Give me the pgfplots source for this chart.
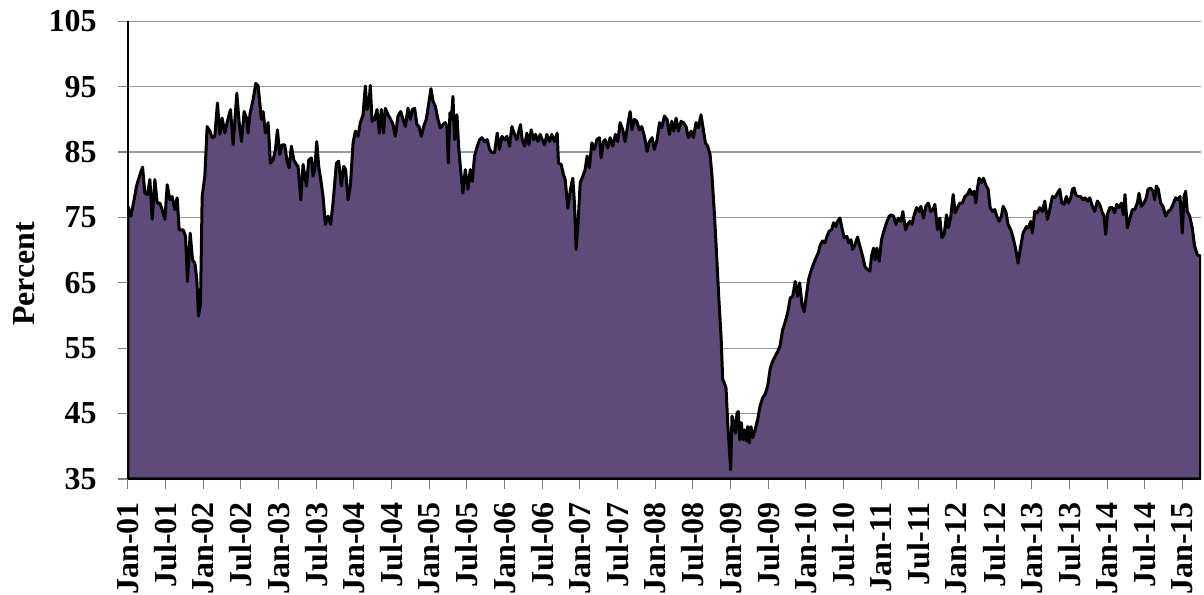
\documentclass[border=0pt]{standalone}
\usepackage{pgfplots}
\pgfplotsset{compat=1.18}
\usepackage{fontspec}
\setmainfont{Liberation Serif}
\definecolor{areapurple}{RGB}{95,75,122}
\begin{document}
\begin{tikzpicture}
\path (-64pt,-57.3pt) rectangle (538.5pt,239.65pt);
\begin{axis}[
  scale only axis, width=537pt, height=229pt,
  xmin=2001, xmax=2015.245, ymin=35, ymax=105,
  ytick={35,45,55,65,75,85,95,105},
  xtick={2001,2001.5,2002,2002.5,2003,2003.5,2004,2004.5,2005,2005.5,2006,2006.5,2007,2007.5,2008,2008.5,2009,2009.5,2010,2010.5,2011,2011.5,2012,2012.5,2013,2013.5,2014,2014.5,2015},
  xticklabels={Jan-01,Jul-01,Jan-02,Jul-02,Jan-03,Jul-03,Jan-04,Jul-04,Jan-05,Jul-05,Jan-06,Jul-06,Jan-07,Jul-07,Jan-08,Jul-08,Jan-09,Jul-09,Jan-10,Jul-10,Jan-11,Jul-11,Jan-12,Jul-12,Jan-13,Jul-13,Jan-14,Jul-14,Jan-15},
  axis x line*=bottom, axis y line*=left,
  axis line style={black, line width=1pt, -},
  ymajorgrids, major grid style={draw=gray!80, line width=0.6pt},
  tick align=outside, major tick length=5pt,
  tick style={draw=gray, line width=0.6pt},
  /pgf/number format/assume math mode=true,
  ticklabel style={font=\fontsize{16}{19}\selectfont\bfseries, inner sep=0pt},
  yticklabel style={anchor=east, xshift=-10.5pt},
  xticklabel style={rotate=90, anchor=east, xshift=-6.4pt},
  ylabel={Percent},
  ylabel style={at={(axis description cs:-0.0968,0.448)}, anchor=center, rotate=0, font=\fontsize{16}{19}\selectfont\bfseries},
  clip=true,
]
\addplot[draw=black, line width=1.5pt, line join=round, fill=areapurple] table {
2001.000 76.7
2001.040 75.2
2001.071 77.0
2001.115 79.8
2001.159 81.5
2001.195 82.7
2001.225 78.7
2001.261 78.5
2001.292 80.8
2001.323 74.7
2001.358 80.8
2001.389 77.2
2001.424 77.2
2001.455 76.2
2001.491 74.7
2001.522 80.0
2001.557 77.7
2001.588 78.2
2001.623 76.2
2001.654 78.0
2001.681 73.1
2001.734 73.1
2001.765 72.1
2001.791 65.2
2001.827 72.6
2001.858 68.5
2001.889 68.0
2001.915 65.5
2001.937 59.9
2001.964 61.9
2001.986 78.2
2002.021 81.3
2002.052 88.9
2002.088 88.2
2002.119 87.2
2002.154 87.4
2002.189 92.5
2002.220 87.7
2002.251 90.2
2002.287 87.9
2002.317 89.5
2002.362 91.5
2002.397 86.1
2002.446 94.0
2002.477 89.5
2002.508 86.6
2002.543 91.2
2002.574 90.2
2002.596 87.9
2002.623 91.0
2002.662 93.0
2002.698 95.5
2002.729 95.1
2002.751 92.5
2002.773 90.0
2002.795 91.2
2002.826 87.9
2002.861 89.5
2002.892 83.3
2002.928 83.8
2002.959 85.4
2002.985 88.4
2003.016 84.6
2003.047 86.1
2003.082 86.1
2003.113 83.6
2003.140 82.6
2003.171 85.9
2003.202 83.8
2003.237 83.1
2003.259 82.8
2003.295 77.7
2003.325 83.1
2003.370 79.8
2003.401 83.8
2003.436 84.1
2003.458 81.3
2003.480 82.3
2003.507 86.6
2003.533 82.8
2003.560 80.8
2003.591 78.2
2003.622 73.9
2003.657 75.2
2003.692 73.9
2003.723 77.2
2003.768 83.3
2003.798 83.6
2003.834 79.8
2003.865 82.8
2003.891 82.3
2003.922 77.7
2003.953 79.8
2003.989 86.4
2004.020 88.2
2004.055 87.4
2004.086 89.5
2004.121 90.7
2004.152 95.1
2004.174 91.5
2004.201 92.5
2004.218 95.2
2004.241 89.7
2004.276 90.0
2004.307 91.5
2004.338 87.9
2004.364 91.5
2004.395 87.9
2004.417 91.7
2004.453 90.7
2004.488 90.0
2004.519 89.2
2004.550 87.4
2004.585 90.5
2004.621 91.2
2004.652 90.0
2004.683 88.9
2004.718 91.7
2004.749 90.0
2004.775 91.5
2004.806 91.7
2004.837 89.2
2004.864 88.9
2004.895 87.4
2004.926 88.9
2004.961 90.0
2004.992 92.3
2005.023 94.7
2005.050 92.8
2005.081 92.0
2005.116 90.0
2005.147 88.7
2005.182 89.2
2005.213 89.5
2005.235 88.9
2005.253 83.3
2005.275 91.0
2005.293 90.0
2005.315 93.5
2005.337 86.9
2005.368 90.7
2005.390 85.9
2005.417 82.3
2005.447 78.7
2005.479 82.3
2005.514 79.3
2005.545 82.3
2005.571 80.5
2005.602 84.4
2005.638 85.9
2005.669 86.9
2005.699 87.2
2005.735 86.6
2005.770 86.9
2005.801 85.4
2005.832 84.9
2005.867 84.9
2005.903 87.9
2005.934 85.4
2005.965 87.4
2006.000 86.9
2006.031 87.4
2006.066 85.9
2006.097 88.9
2006.133 87.7
2006.164 86.9
2006.190 88.2
2006.212 89.2
2006.234 86.9
2006.265 85.9
2006.296 87.9
2006.323 86.1
2006.354 88.4
2006.385 86.9
2006.411 87.7
2006.442 86.6
2006.473 87.7
2006.500 86.9
2006.531 86.1
2006.561 87.7
2006.597 86.6
2006.628 87.7
2006.663 86.6
2006.699 87.9
2006.716 83.3
2006.752 83.1
2006.783 81.5
2006.805 80.8
2006.840 76.4
2006.875 79.3
2006.906 81.0
2006.928 77.2
2006.950 70.1
2006.973 73.6
2007.004 80.3
2007.039 81.3
2007.070 82.3
2007.096 84.4
2007.127 82.6
2007.158 86.4
2007.194 85.4
2007.225 86.9
2007.260 87.2
2007.282 84.1
2007.313 86.6
2007.335 86.9
2007.371 85.6
2007.401 87.2
2007.437 85.9
2007.472 87.7
2007.503 86.6
2007.534 89.5
2007.569 88.4
2007.600 86.6
2007.636 89.2
2007.667 91.2
2007.693 88.4
2007.724 90.0
2007.755 89.7
2007.790 88.4
2007.821 88.9
2007.857 87.4
2007.892 85.1
2007.923 86.6
2007.958 87.2
2007.989 85.4
2008.025 86.9
2008.056 89.5
2008.087 88.7
2008.122 90.5
2008.157 90.0
2008.188 87.7
2008.219 89.7
2008.246 88.2
2008.277 90.2
2008.308 88.2
2008.343 89.7
2008.374 89.5
2008.409 88.9
2008.440 87.2
2008.476 88.2
2008.507 87.2
2008.542 89.5
2008.573 88.7
2008.608 90.7
2008.639 88.4
2008.666 86.4
2008.697 85.9
2008.728 84.6
2008.754 81.3
2008.785 75.7
2008.816 69.1
2008.843 62.9
2008.874 56.8
2008.896 50.2
2008.918 49.7
2008.940 48.9
2008.962 43.6
2008.984 39.5
2009.002 36.4
2009.019 44.6
2009.042 43.6
2009.064 42.0
2009.086 45.1
2009.103 45.3
2009.121 41.0
2009.143 43.6
2009.165 41.0
2009.187 42.5
2009.210 40.8
2009.227 43.0
2009.249 40.5
2009.271 43.0
2009.294 41.3
2009.325 42.5
2009.360 44.1
2009.391 46.1
2009.426 47.4
2009.457 47.9
2009.493 49.2
2009.528 52.0
2009.559 53.0
2009.594 53.8
2009.625 54.5
2009.656 55.3
2009.691 57.8
2009.722 58.9
2009.758 60.4
2009.793 62.7
2009.824 62.9
2009.859 65.2
2009.890 62.9
2009.917 65.0
2009.952 61.4
2009.979 60.6
2010.010 63.4
2010.036 65.5
2010.067 66.8
2010.098 67.8
2010.134 68.8
2010.165 69.6
2010.191 70.8
2010.222 71.4
2010.253 71.1
2010.280 72.1
2010.310 72.9
2010.341 73.1
2010.368 74.2
2010.399 73.6
2010.421 74.4
2010.452 74.9
2010.478 73.4
2010.509 71.9
2010.545 72.1
2010.567 71.1
2010.598 71.6
2010.620 70.1
2010.651 70.8
2010.686 72.0
2010.717 70.6
2010.753 69.1
2010.783 67.5
2010.819 67.0
2010.850 66.8
2010.872 69.1
2010.898 70.3
2010.920 68.5
2010.943 70.3
2010.974 68.3
2011.004 71.6
2011.040 73.1
2011.071 74.2
2011.106 75.2
2011.137 75.4
2011.164 75.2
2011.195 73.9
2011.226 74.9
2011.261 74.4
2011.287 75.9
2011.323 73.1
2011.349 73.9
2011.380 74.4
2011.407 73.9
2011.438 75.4
2011.469 76.5
2011.504 75.9
2011.526 76.7
2011.562 74.9
2011.593 76.7
2011.623 77.2
2011.659 75.9
2011.690 76.2
2011.712 77.0
2011.747 73.1
2011.778 74.9
2011.805 71.9
2011.836 72.4
2011.867 75.4
2011.893 73.4
2011.924 75.2
2011.955 78.5
2011.982 75.7
2012.013 76.5
2012.044 77.2
2012.079 77.2
2012.110 78.2
2012.145 78.5
2012.176 79.3
2012.203 78.5
2012.234 79.0
2012.256 77.2
2012.278 79.5
2012.300 81.0
2012.331 80.3
2012.357 81.0
2012.388 80.0
2012.419 79.3
2012.446 76.5
2012.477 75.9
2012.508 76.2
2012.534 75.2
2012.565 74.4
2012.596 75.2
2012.618 76.7
2012.654 75.9
2012.684 73.9
2012.720 73.1
2012.751 71.9
2012.786 70.1
2012.817 68.0
2012.852 70.6
2012.883 72.6
2012.928 73.6
2012.954 73.4
2012.985 74.4
2013.007 72.6
2013.038 75.9
2013.073 75.7
2013.104 76.5
2013.140 75.9
2013.171 77.5
2013.206 74.7
2013.237 76.2
2013.272 78.2
2013.303 78.0
2013.339 78.7
2013.370 79.3
2013.396 77.2
2013.427 77.0
2013.458 78.2
2013.485 77.2
2013.516 78.0
2013.538 79.3
2013.560 79.5
2013.582 78.5
2013.613 78.2
2013.648 78.2
2013.679 77.7
2013.706 78.0
2013.737 77.5
2013.768 78.0
2013.803 76.7
2013.834 75.9
2013.869 77.5
2013.900 77.0
2013.936 75.7
2013.958 75.2
2013.980 72.4
2014.002 75.4
2014.033 76.5
2014.068 76.5
2014.099 75.7
2014.126 77.0
2014.157 76.5
2014.188 77.2
2014.214 75.4
2014.236 78.5
2014.267 73.4
2014.298 74.7
2014.333 76.2
2014.364 76.2
2014.400 77.2
2014.422 78.7
2014.453 76.7
2014.488 77.2
2014.519 78.0
2014.541 79.3
2014.577 79.5
2014.608 79.0
2014.630 77.7
2014.652 79.8
2014.678 79.3
2014.709 77.2
2014.740 76.7
2014.776 75.2
2014.807 75.9
2014.842 76.2
2014.873 77.0
2014.908 78.0
2014.939 77.7
2014.966 78.2
2014.997 72.6
2015.019 78.2
2015.041 79.0
2015.063 75.9
2015.094 75.2
2015.129 73.4
2015.160 70.6
2015.196 69.3
2015.227 69.1
2015.240 69.1
} \closedcycle;
\end{axis}
\end{tikzpicture}
\end{document}
